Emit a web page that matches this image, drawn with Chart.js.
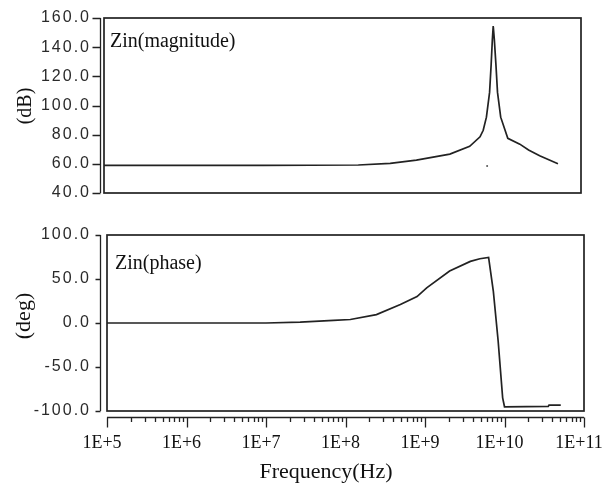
<!DOCTYPE html>
<html>
<head>
<meta charset="utf-8">
<title>Zin magnitude and phase</title>
<script src="https://cdn.jsdelivr.net/npm/chart.js@4.4.1/dist/chart.umd.min.js"></script>
<style>
  html, body { margin: 0; padding: 0; background: #fff; }
  #wrap { position: relative; width: 605px; height: 486px; overflow: hidden; }
  canvas { position: absolute; left: 0; }
  #magCanvas { top: 0; }
  #phaseCanvas { top: 205px; }
</style>
</head>
<body>
<div id="wrap">
  <canvas id="magCanvas" width="605" height="205"></canvas>
  <canvas id="phaseCanvas" width="605" height="281"></canvas>
</div>
<script>
// Input impedance sweep: magnitude (dB) and phase (deg) versus frequency (Hz)
const magFreq = [1e5, 1e7, 1.58e8, 3.98e8, 8.5e8, 2.24e9, 3.98e9, 5.37e9, 5.89e9, 6.46e9,
                 7.08e9, 7.41e9, 7.67e9, 7.87e9, 8.13e9, 8.51e9, 8.91e9, 9.77e9, 1.2e10,
                 1.7e10, 2.19e10, 3.02e10, 5.13e10];
const magDb   = [59.0, 59.0, 59.2, 60.3, 62.6, 66.7, 72.0, 78.5, 83.0, 92.0,
                 109.0, 128.0, 145.0, 154.5, 145.0, 128.0, 109.0, 92.0, 77.5,
                 73.5, 69.5, 65.5, 60.0];

// isolated sample below the resonance
const strayFreq = [6.6e9];
const strayDb   = [58.6];

const phaseFreq = [1e5, 1e7, 2.69e7, 7.08e7, 1.15e8, 2.45e8, 4.9e8, 7.94e8, 1.05e9, 2.04e9,
                   3.72e9, 4.9e9, 6.31e9, 7.24e9, 8.32e9, 9.48e9, 1.0e10, 3.55e10, 3.63e10, 5.1e10];
const phaseDeg  = [0.0, 0.0, 1.0, 3.0, 4.0, 9.5, 21.0, 30.0, 40.0, 59.0,
                   70.0, 73.0, 74.5, 36.0, -20.5, -85.0, -95.2, -94.8, -93.3, -93.3];

const decadeTicks = [1e5, 1e6, 1e7, 1e8, 1e9, 1e10, 1e11];
const magTicks    = [40, 60, 80, 100, 120, 140, 160];
const phaseTicks  = [-100, -50, 0, 50, 100];

const INK = '#222';
const SERIF = '"Liberation Serif", "Times New Roman", serif';
const SANS = '"Liberation Sans", Arial, sans-serif';

function toPoints(xs, ys) {
  return xs.map((x, i) => ({ x: x, y: ys[i] }));
}

// Frame, detached axes with tick marks, and the panel / axis captions
const panelFrame = {
  id: 'panelFrame',
  afterDatasetsDraw(chart) {
    // value labels of the y axis are drawn after this hook (ticks.z = 1), widely spaced
    chart.ctx.letterSpacing = '2px';
  },
  afterDraw(chart, args, o) {
    const ctx = chart.ctx;
    ctx.letterSpacing = '0px';
    const a = chart.chartArea;
    ctx.save();
    ctx.strokeStyle = INK;

    // plot frame
    ctx.lineWidth = 1.7;
    ctx.strokeRect(a.left, a.top, a.right - a.left, a.bottom - a.top);

    // y axis line with ticks
    const ys = chart.scales.y;
    const ax = a.left - o.yGap + 0.5;
    ctx.lineWidth = 1.3;
    ctx.beginPath();
    ctx.moveTo(ax, a.top);
    ctx.lineTo(ax, a.bottom);
    ys.ticks.forEach(t => {
      const py = Math.round(ys.getPixelForValue(t.value)) + 0.5;
      ctx.moveTo(ax, py);
      ctx.lineTo(ax - o.yTickLen, py);
    });
    ctx.stroke();

    // logarithmic frequency axis with decade and minor ticks
    if (o.xAxis) {
      const xs = chart.scales.x;
      const ay = a.bottom + o.xGap + 0.5;
      ctx.beginPath();
      ctx.moveTo(a.left, ay);
      ctx.lineTo(a.right, ay);
      for (let d = 0; d < decadeTicks.length; d++) {
        const dec = decadeTicks[d];
        const px = Math.round(xs.getPixelForValue(dec)) + 0.5;
        ctx.moveTo(px, ay);
        ctx.lineTo(px, ay + o.xMajorLen);
        if (d < decadeTicks.length - 1) {
          for (let m = 2; m <= 9; m++) {
            const mx = Math.round(xs.getPixelForValue(dec * m)) + 0.5;
            ctx.moveTo(mx, ay);
            ctx.lineTo(mx, ay + o.xMinorLen);
          }
        }
      }
      ctx.stroke();
    }

    // captions
    ctx.fillStyle = '#111';
    ctx.textAlign = 'left';
    ctx.textBaseline = 'alphabetic';
    ctx.font = '20px ' + SERIF;
    ctx.fillText(o.label, o.labelX, o.labelY);

    ctx.save();
    ctx.translate(o.yTitleX, o.yTitleY);
    ctx.rotate(-Math.PI / 2);
    ctx.textAlign = 'center';
    ctx.textBaseline = 'middle';
    ctx.font = o.yTitleSize + 'px ' + SERIF;
    ctx.fillText(o.yTitle, 0, 0);
    ctx.restore();

    if (o.xTitle) {
      ctx.textAlign = 'center';
      ctx.textBaseline = 'middle';
      ctx.font = '22px ' + SERIF;
      ctx.fillText(o.xTitle, o.xTitleX, o.xTitleY);
    }
    ctx.restore();
  }
};

function yScale(min, max, tickList, width, pad) {
  return {
    type: 'linear',
    min: min,
    max: max,
    afterBuildTicks: s => { s.ticks = tickList.map(v => ({ value: v })); },
    afterFit: s => { s.width = width; s.paddingTop = 0; s.paddingBottom = 0; },
    grid: { display: false, drawTicks: false },
    border: { display: false },
    ticks: {
      z: 1,
      padding: pad,
      color: '#2a2a2a',
      font: { family: SANS, size: 16 },
      callback: v => Number(v).toFixed(1)
    }
  };
}

const commonOpts = {
  responsive: false,
  animation: false,
  devicePixelRatio: 1,
  events: []
};

// magnitude panel
new Chart(document.getElementById('magCanvas'), {
  type: 'line',
  data: {
    datasets: [
      { data: toPoints(magFreq, magDb), borderColor: INK, borderWidth: 1.7,
        pointRadius: 0, tension: 0, fill: false },
      { data: toPoints(strayFreq, strayDb), showLine: false, pointRadius: 1,
        pointBorderWidth: 0, pointBackgroundColor: '#555' }
    ]
  },
  options: Object.assign({}, commonOpts, {
    layout: { padding: { top: 18, right: 24, bottom: 12, left: 0 } },
    plugins: {
      legend: { display: false },
      tooltip: { enabled: false },
      panelFrame: {
        label: 'Zin(magnitude)', labelX: 110, labelY: 46.5,
        yTitle: '(dB)', yTitleX: 26, yTitleY: 106, yTitleSize: 20,
        yGap: 4, yTickLen: 8, xAxis: false
      }
    },
    scales: {
      x: { type: 'logarithmic', min: 1e5, max: 1e11, display: false },
      y: yScale(40, 160, magTicks, 104, 13)
    }
  }),
  plugins: [panelFrame]
});

// phase panel
new Chart(document.getElementById('phaseCanvas'), {
  type: 'line',
  data: {
    datasets: [
      { data: toPoints(phaseFreq, phaseDeg), borderColor: INK, borderWidth: 1.7,
        pointRadius: 0, tension: 0, fill: false }
    ]
  },
  options: Object.assign({}, commonOpts, {
    layout: { padding: { top: 30, right: 21, bottom: 0, left: 0 } },
    plugins: {
      legend: { display: false },
      tooltip: { enabled: false },
      panelFrame: {
        label: 'Zin(phase)', labelX: 115, labelY: 63.5,
        yTitle: '(deg)', yTitleX: 24, yTitleY: 111, yTitleSize: 22,
        yGap: 7, yTickLen: 5,
        xAxis: true, xGap: 6, xMajorLen: 10, xMinorLen: 4.5,
        xTitle: 'Frequency(Hz)', xTitleX: 326, xTitleY: 267
      }
    },
    scales: {
      x: {
        type: 'logarithmic',
        min: 1e5,
        max: 1e11,
        afterBuildTicks: s => { s.ticks = decadeTicks.map(v => ({ value: v, major: true })); },
        afterFit: s => { s.height = 75; s.paddingLeft = 0; s.paddingRight = 0; },
        grid: { display: false, drawTicks: false },
        border: { display: false },
        ticks: {
          autoSkip: false,
          maxRotation: 0,
          padding: 21,
          labelOffset: -5,
          color: '#111',
          font: { family: SERIF, size: 18 },
          callback: v => '1E+' + Math.round(Math.log10(v))
        }
      },
      y: yScale(-100, 100, phaseTicks, 107, 16)
    }
  }),
  plugins: [panelFrame]
});
</script>
</body>
</html>
